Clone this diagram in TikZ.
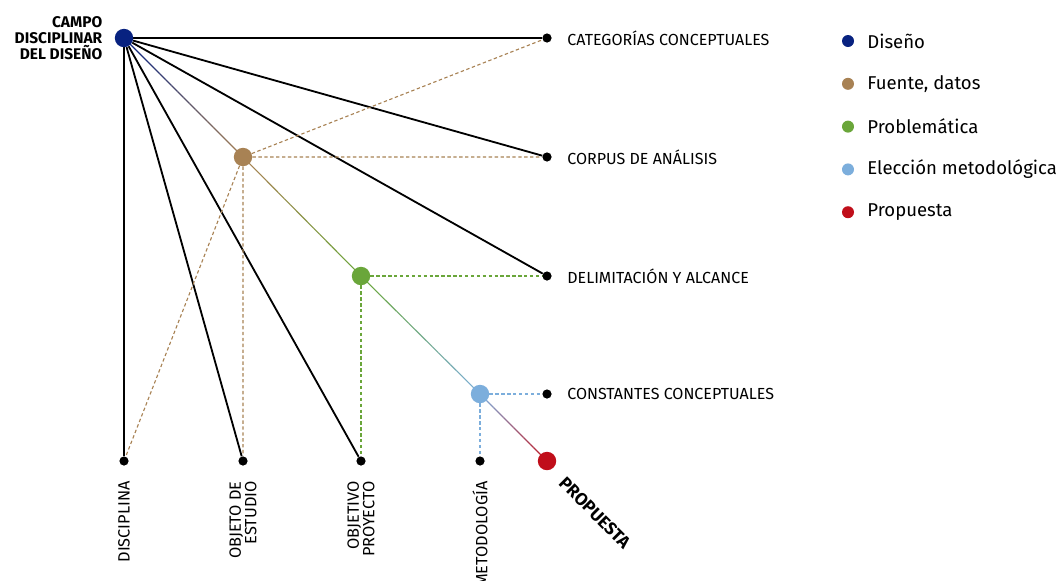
\documentclass[tikz,border=0pt]{standalone}
\usepackage{fontspec}
\setmainfont{Fira Sans}
\usepackage{tikz}
\usetikzlibrary{calc,backgrounds,positioning}
\definecolor{disenio}{RGB}{8,34,128}
\definecolor{fuente}{RGB}{168,130,84}
\definecolor{probl}{RGB}{106,166,58}
\definecolor{elecc}{RGB}{124,174,220}
\definecolor{propu}{RGB}{192,14,26}
\def\gradline(#1)(#2)#3#4% Syntax: (from)(to){start colour}{end colour}
    { \foreach \k in {0,...,19}{%
        \pgfmathsetmacro{\ta}{\k/20}\pgfmathsetmacro{\tb}{(\k+1)/20}%
        \pgfmathtruncatemacro{\pc}{100-5*\k}%
        \draw[line width=0.8pt,color=#3!\pc!#4] ($(#1)!\ta!(#2)$) -- ($(#1)!\tb!(#2)$);
      } }

\begin{document}
\begin{tikzpicture}[x=0.025cm,y=-0.025cm,
    dot/.style={circle,fill=black,inner sep=0pt,minimum size=0.23cm},
    bigdot/.style={circle,inner sep=0pt,minimum size=0.46cm},
    legdot/.style={circle,inner sep=0pt,minimum size=0.3cm},
    lbl/.style={inner sep=0pt,font=\fontsize{11.4}{12}\selectfont},
    vlbl/.style={lbl,rotate=90,anchor=east,align=right,font=\fontsize{11.6}{11}\selectfont},
    legtxt/.style={inner sep=0pt,font=\fontsize{13.2}{15}\selectfont},
    link/.style={line width=1.3pt},
    hint/.style={dashed,dash pattern=on 2.4pt off 1.8pt,line width=0.8pt}]
   \useasboundingbox (0,0) rectangle (1060,580);

   % campo y etapas
   \node[bigdot,fill=disenio] (campo) at (124,38) {};
   \node[bigdot,fill=fuente] (fuente) at (243,157) {};
   \node[bigdot,fill=probl] (probl) at (361,276) {};
   \node[bigdot,fill=elecc] (elecc) at (480,394) {};
   \node[bigdot,fill=propu] (prop) at (547,461) {};
   \node[lbl,align=right,left=0.3cm of campo,font=\fontsize{11}{11.4}\selectfont\bfseries]
     {CAMPO\\DISCIPLINAR\\DEL DISEÑO};

   % columna derecha
   \node[dot] (cat) at (547,38) {};
   \node[dot] (corpus) at (547,157) {};
   \node[dot] (delim) at (547,276) {};
   \node[dot] (const) at (547,394) {};
   \node[lbl,right=0.38cm of cat] {CATEGORÍAS CONCEPTUALES};
   \node[lbl,right=0.38cm of corpus] {CORPUS DE ANÁLISIS};
   \node[lbl,right=0.38cm of delim] {DELIMITACIÓN Y ALCANCE};
   \node[lbl,right=0.38cm of const] {CONSTANTES CONCEPTUALES};

   % fila inferior
   \node[dot] (disc) at (124,461) {};
   \node[dot] (objeto) at (243,461) {};
   \node[dot] (objetivo) at (361,461) {};
   \node[dot] (metod) at (480,461) {};
   \node[vlbl,below=0.38cm of disc,anchor=east] {DISCIPLINA};
   \node[vlbl,below=0.38cm of objeto,anchor=east] {OBJETO DE\\ESTUDIO};
   \node[vlbl,below=0.38cm of objetivo,anchor=east] {OBJETIVO\\PROYECTO};
   \node[vlbl,below=0.38cm of metod,anchor=east] {METODOLOGÍA};
   \node[lbl,rotate=-45,anchor=west,font=\fontsize{12.4}{13}\selectfont\bfseries]
     at ($(prop)+(15,19)$) {PROPUESTA};

   \begin{scope}[on background layer]
     \foreach \dest in {cat,corpus,delim,disc,objeto,objetivo}
       \draw[link] (campo) -- (\dest);
     \gradline(campo)(fuente){disenio}{fuente}
     \gradline(fuente)(probl){fuente}{probl}
     \gradline(probl)(elecc){probl}{elecc}
     \gradline(elecc)(prop){elecc}{propu}
     \draw[hint,fuente] (fuente) -- (cat) (fuente) -- (corpus)
                        (fuente) -- (objeto) (fuente) -- (disc);
     \draw[hint,probl] (probl) -- (delim) (probl) -- (objetivo);
     \draw[hint,elecc] (elecc) -- (const) (elecc) -- (metod);
   \end{scope}

   % leyenda
   \foreach \c/\t [count=\i] in {disenio/Diseño,fuente/{Fuente, datos},probl/Problemática,
                                 elecc/Elección metodológica,propu/Propuesta}{
     \node[legdot,fill=\c] (ley\i) at (848,{41+42.8*(\i-1)}) {};
     \node[legtxt,right=0.32cm of ley\i] {\t};
   }
\end{tikzpicture}
\end{document}
